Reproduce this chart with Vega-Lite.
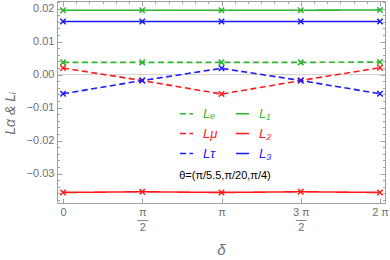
{
  "$schema": "https://vega.github.io/schema/vega-lite/v6.json",
  "width": 328,
  "height": 202,
  "autosize": "none",
  "padding": {"left": 57, "top": 1, "right": 5, "bottom": 57},
  "background": "white",
  "config": {
    "view": {"stroke": null},
    "font": "Liberation Sans",
    "axis": {
      "grid": false,
      "domainColor": "#a0a0a0",
      "tickColor": "#a0a0a0",
      "labelColor": "#6e6e6e",
      "labelFontSize": 11,
      "titleColor": "#6e6e6e",
      "titleFontWeight": "normal"
    }
  },
  "datasets": {
    "pts": [
      {"delta": 0, "series": "Lₑ", "value": 0.0037},
      {"delta": 1.5707963, "series": "Lₑ", "value": 0.0037},
      {"delta": 3.1415927, "series": "Lₑ", "value": 0.0037},
      {"delta": 4.712389, "series": "Lₑ", "value": 0.0037},
      {"delta": 6.2831853, "series": "Lₑ", "value": 0.0038},
      {"delta": 0, "series": "L₁", "value": 0.0195},
      {"delta": 1.5707963, "series": "L₁", "value": 0.0195},
      {"delta": 3.1415927, "series": "L₁", "value": 0.0195},
      {"delta": 4.712389, "series": "L₁", "value": 0.0195},
      {"delta": 6.2831853, "series": "L₁", "value": 0.0196},
      {"delta": 0, "series": "Lμ", "value": 0.002},
      {"delta": 1.5707963, "series": "Lμ", "value": -0.0018},
      {"delta": 3.1415927, "series": "Lμ", "value": -0.0059},
      {"delta": 4.712389, "series": "Lμ", "value": -0.0018},
      {"delta": 6.2831853, "series": "Lμ", "value": 0.0021},
      {"delta": 0, "series": "L₂", "value": -0.0357},
      {"delta": 1.5707963, "series": "L₂", "value": -0.0355},
      {"delta": 3.1415927, "series": "L₂", "value": -0.0357},
      {"delta": 4.712389, "series": "L₂", "value": -0.0355},
      {"delta": 6.2831853, "series": "L₂", "value": -0.0357},
      {"delta": 0, "series": "Lτ", "value": -0.0058},
      {"delta": 1.5707963, "series": "Lτ", "value": -0.0018},
      {"delta": 3.1415927, "series": "Lτ", "value": 0.0019},
      {"delta": 4.712389, "series": "Lτ", "value": -0.0018},
      {"delta": 6.2831853, "series": "Lτ", "value": -0.0058},
      {"delta": 0, "series": "L₃", "value": 0.0161},
      {"delta": 1.5707963, "series": "L₃", "value": 0.0161},
      {"delta": 3.1415927, "series": "L₃", "value": 0.0161},
      {"delta": 4.712389, "series": "L₃", "value": 0.0161},
      {"delta": 6.2831853, "series": "L₃", "value": 0.0161}
    ],
    "zero": [{"z": 0}]
  },
  "resolve": {"axis": {"x": "independent", "y": "independent"}},
  "layer": [
    {
      "data": {"name": "zero"},
      "mark": {"type": "rule", "color": "#d0d0d0", "strokeWidth": 1},
      "encoding": {
        "y": {
          "field": "z",
          "type": "quantitative",
          "scale": {"domain": [-0.0389, 0.0223], "nice": false, "zero": false},
          "axis": {
            "orient": "right",
            "title": null,
            "labels": false,
            "values": [-0.038, -0.036, -0.034, -0.032, -0.03, -0.028, -0.026, -0.024, -0.022, -0.02, -0.018, -0.016, -0.014, -0.012, -0.01, -0.008, -0.006, -0.004, -0.002, 0, 0.002, 0.004, 0.006, 0.008, 0.01, 0.012, 0.014, 0.016, 0.018, 0.02, 0.022],
            "tickSize": {"condition": {"test": "abs(datum.value*100 - round(datum.value*100)) < 0.001", "value": -5}, "value": -2.5}
          }
        }
      }
    },
    {
      "data": {"name": "pts"},
      "mark": {"type": "line", "strokeWidth": 1.6},
      "encoding": {
        "x": {
          "field": "delta",
          "type": "quantitative",
          "scale": {"domain": [-0.119, 6.382], "nice": false, "zero": false},
          "axis": {
            "orient": "bottom",
            "title": "δ",
            "titleFontStyle": "italic",
            "titleFontSize": 15,
            "titlePadding": 10,
            "values": [0, 1.5707963, 3.1415927, 4.712389, 6.2831853],
            "tickSize": -5,
            "labelPadding": 8,
            "labelLineHeight": 7.5,
            "labelExpr": "round(datum.value/(PI/2)) == 0 ? '0' : round(datum.value/(PI/2)) == 1 ? ['π','—','2'] : round(datum.value/(PI/2)) == 2 ? 'π' : round(datum.value/(PI/2)) == 3 ? ['3 π','—','2'] : '2 π'"
          }
        },
        "y": {
          "field": "value",
          "type": "quantitative",
          "scale": {"domain": [-0.0389, 0.0223], "nice": false, "zero": false},
          "axis": {
            "orient": "left",
            "title": "Lα & Lᵢ",
            "titleFontStyle": "italic",
            "titleFontSize": 14,
            "titleX": -47,
            "titleY": 112,
            "titleBaseline": "middle",
            "values": [-0.038, -0.036, -0.034, -0.032, -0.03, -0.028, -0.026, -0.024, -0.022, -0.02, -0.018, -0.016, -0.014, -0.012, -0.01, -0.008, -0.006, -0.004, -0.002, 0, 0.002, 0.004, 0.006, 0.008, 0.01, 0.012, 0.014, 0.016, 0.018, 0.02, 0.022],
            "tickSize": {"condition": {"test": "abs(datum.value*100 - round(datum.value*100)) < 0.001", "value": -5}, "value": -2.5},
            "labelPadding": 8,
            "labelExpr": "abs(datum.value*100 - round(datum.value*100)) < 0.001 ? format(datum.value, '.2f') : ''"
          }
        },
        "color": {
          "field": "series",
          "type": "nominal",
          "scale": {
            "domain": ["Lₑ", "Lμ", "Lτ", "L₁", "L₂", "L₃"],
            "range": ["#2db52d", "#ff1a1a", "#1a1aff", "#2db52d", "#ff1a1a", "#1a1aff"]
          },
          "legend": {
            "orient": "none",
            "legendX": 122,
            "legendY": 105,
            "columns": 2,
            "padding": 0,
            "title": "θ=(π/5.5,π/20,π/4)",
            "titleOrient": "bottom",
            "titleAnchor": "middle",
            "titleColor": "#000000",
            "titleFontWeight": "normal",
            "titleFontSize": 11,
            "titlePadding": 9,
            "symbolType": "stroke",
            "symbolSize": 169,
            "symbolStrokeWidth": 1.6,
            "labelFontSize": 13,
            "labelFontStyle": "italic",
            "labelOffset": 9,
            "columnPadding": 14,
            "rowPadding": 5,
            "encode": {"labels": {"update": {"fill": {"scale": "color", "field": "value"}}}}
          }
        },
        "strokeDash": {
          "field": "series",
          "type": "nominal",
          "scale": {
            "domain": ["Lₑ", "Lμ", "Lτ", "L₁", "L₂", "L₃"],
            "range": [[6, 3.5], [6, 3.5], [6, 3.5], [1, 0], [1, 0], [1, 0]]
          }
        }
      }
    },
    {
      "data": {"name": "pts"},
      "mark": {"type": "point", "shape": "M-1,-1L1,1M-1,1L1,-1", "filled": false, "size": 30, "strokeWidth": 1.5, "opacity": 1},
      "encoding": {
        "x": {
          "field": "delta",
          "type": "quantitative",
          "scale": {"domain": [-0.119, 6.382], "nice": false, "zero": false},
          "axis": {
            "orient": "top",
            "title": null,
            "labels": false,
            "values": [0, 0.2618, 0.5236, 0.7854, 1.0472, 1.309, 1.5707963, 1.8326, 2.0944, 2.3562, 2.618, 2.8798, 3.1415927, 3.4034, 3.6652, 3.927, 4.1888, 4.4506, 4.712389, 4.9742, 5.236, 5.4978, 5.7596, 6.0214, 6.2831853],
            "tickSize": {"condition": {"test": "abs(datum.value/(PI/2) - round(datum.value/(PI/2))) < 0.001", "value": -5}, "value": -2.5}
          }
        },
        "y": {"field": "value", "type": "quantitative", "axis": null},
        "stroke": {
          "field": "series",
          "type": "nominal",
          "scale": {
            "domain": ["Lₑ", "Lμ", "Lτ", "L₁", "L₂", "L₃"],
            "range": ["#2db52d", "#ff1a1a", "#1a1aff", "#2db52d", "#ff1a1a", "#1a1aff"]
          },
          "legend": null
        }
      }
    }
  ]
}
